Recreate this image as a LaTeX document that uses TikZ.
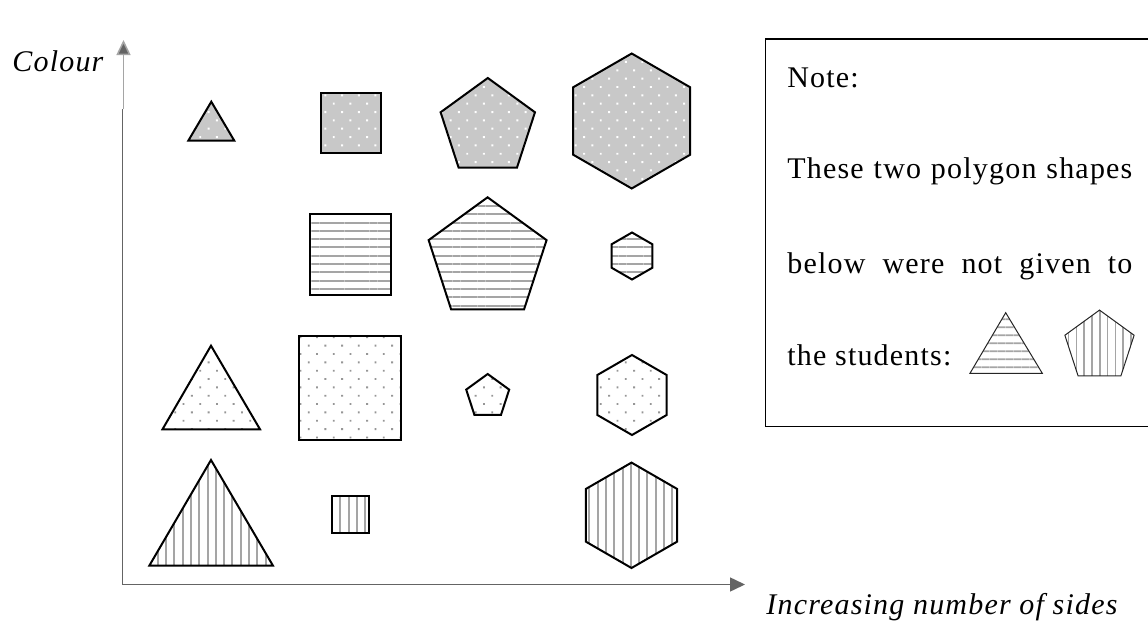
\documentclass[tikz,border=0pt]{standalone}
\usepackage{fontspec}
\setmainfont{Liberation Serif}
\newfontfamily\notefont{Liberation Serif}[LetterSpace=4]
\usetikzlibrary{arrows.meta,patterns.meta}
\definecolor{axisgrey}{RGB}{100,100,100}
\definecolor{axislight}{RGB}{165,165,165}
\definecolor{hatchgrey}{RGB}{165,165,165}
\definecolor{densegrey}{RGB}{200,200,200}
\definecolor{dotgrey}{RGB}{150,150,150}
\tikzset{
  outline/.style={draw=black, line width=1pt, line join=miter},
  thinline/.style={draw=black!85, line width=0.5pt, line join=miter},
  dense/.style={preaction={fill=densegrey}, pattern color=white,
    pattern={Dots[distance=5.9pt, angle=45, radius=0.7pt]}},
  hlines/.style={pattern color=hatchgrey,
    pattern={Lines[distance=4.15pt, angle=0, line width=1pt]}},
  vlines/.style={pattern color=hatchgrey,
    pattern={Lines[distance=4.15pt, angle=90, line width=1pt]}},
  sparse/.style={pattern color=dotgrey,
    pattern={Dots[distance=5.9pt, angle=45, radius=0.65pt]}},
  smallh/.style={pattern color=hatchgrey,
    pattern={Lines[distance=3.85pt, angle=0, line width=0.8pt]}},
  smallv/.style={pattern color=hatchgrey,
    pattern={Lines[distance=3.9pt, angle=90, line width=0.8pt]}},
  axis/.style={draw=axisgrey, line width=0.75pt},
  axistip/.style={-{Triangle[length=7.5pt, width=7pt]}},
  txt/.style={inner sep=0pt, anchor=base west, font=\fontsize{15pt}{17pt}\selectfont\notefont},
  itxt/.style={txt, font=\fontsize{15pt}{17pt}\selectfont\notefont\itshape},
}
% regular polygons centred at #1 with circumradius #2 (apex at the top)
\newcommand\pentapath[2]{[shift={#1}] (-90:#2) -- (-18:#2) -- (54:#2) -- (126:#2) -- (198:#2) -- cycle}
\newcommand\hexapath[2]{[shift={#1}] (-90:#2) -- (-30:#2) -- (30:#2) -- (90:#2) -- (150:#2) -- (210:#2) -- cycle}
\begin{document}
\begin{tikzpicture}[x=0.5pt, y=-0.5pt]
  \useasboundingbox (0,0) rectangle (1148,621);
  \fill[white] (0,0) rectangle (1148,621);

  % axes
  \coordinate (origin) at (122.5,584.5);
  \coordinate (ybreak) at (122.5,109);
  \coordinate (yupper) at (123.5,109);
  \coordinate (ytip) at (123.5,40);
  \coordinate (xtip) at (745,584.5);
  \draw[axis] (origin) -- (ybreak);
  \draw[axis, draw=axislight, -{Triangle[length=7.5pt, width=7pt, fill=axisgrey]}] (yupper) -- (ytip);
  \draw[axis, axistip, fill=axisgrey] (origin) -- (xtip);

  % axis labels
  \node[itxt] (colourlabel) at (12,71) {Colour};
  \node[itxt] (sideslabel) at (766,614) {Increasing number of sides};

  % row 1: dense grey
  \path[dense, outline] (211.3,101.7) -- (234.3,140.7) -- (188.3,140.7) -- cycle;
  \path[dense, outline] (321,93) rectangle (381,153);
  \path[dense, outline] \pentapath{(487.8,127.6)}{49.6};
  \path[dense, outline] \hexapath{(631.7,121)}{67.5};

  % row 2: horizontal lines
  \path[hlines, outline] (310,214) rectangle (391,295);
  \path[hlines, outline] \pentapath{(487.6,259.3)}{62};
  \path[hlines, outline] \hexapath{(632,256)}{23.5};

  % row 3: sparse dots
  \path[sparse, outline] (211,345.7) -- (260,429.3) -- (162.5,429.3) -- cycle;
  \path[sparse, outline] (299,336) rectangle (401,439.5);
  \path[sparse, outline] \pentapath{(487.7,396.6)}{22.6};
  \path[sparse, outline] \hexapath{(632,395)}{40};

  % row 4: vertical lines
  \path[vlines, outline] (211,460) -- (273,565.7) -- (149.3,565.7) -- cycle;
  \path[vlines, outline] (332,496) rectangle (369,533);
  \path[vlines, outline] \hexapath{(631.5,515.3)}{52.7};

  % note box
  \draw[line width=0.9pt] (765.5,39) rectangle (1155,426.5);
  \node[txt] (notehead) at (787,87) {Note:};
  \node[txt] (noteone) at (787,178) {\makebox[172.5pt][s]{These two polygon shapes}};
  \node[txt] (notetwo) at (787,273) {\makebox[172.5pt][s]{below were not given to}};
  \node[txt] (notethree) at (787,365) {the students:};
  \path[smallh, thinline] (1005.7,312.7) -- (1042.3,373.3) -- (970,373.3) -- cycle;
  \path[smallv, thinline] \pentapath{(1099.5,346.5)}{36.4};
\end{tikzpicture}
\end{document}
